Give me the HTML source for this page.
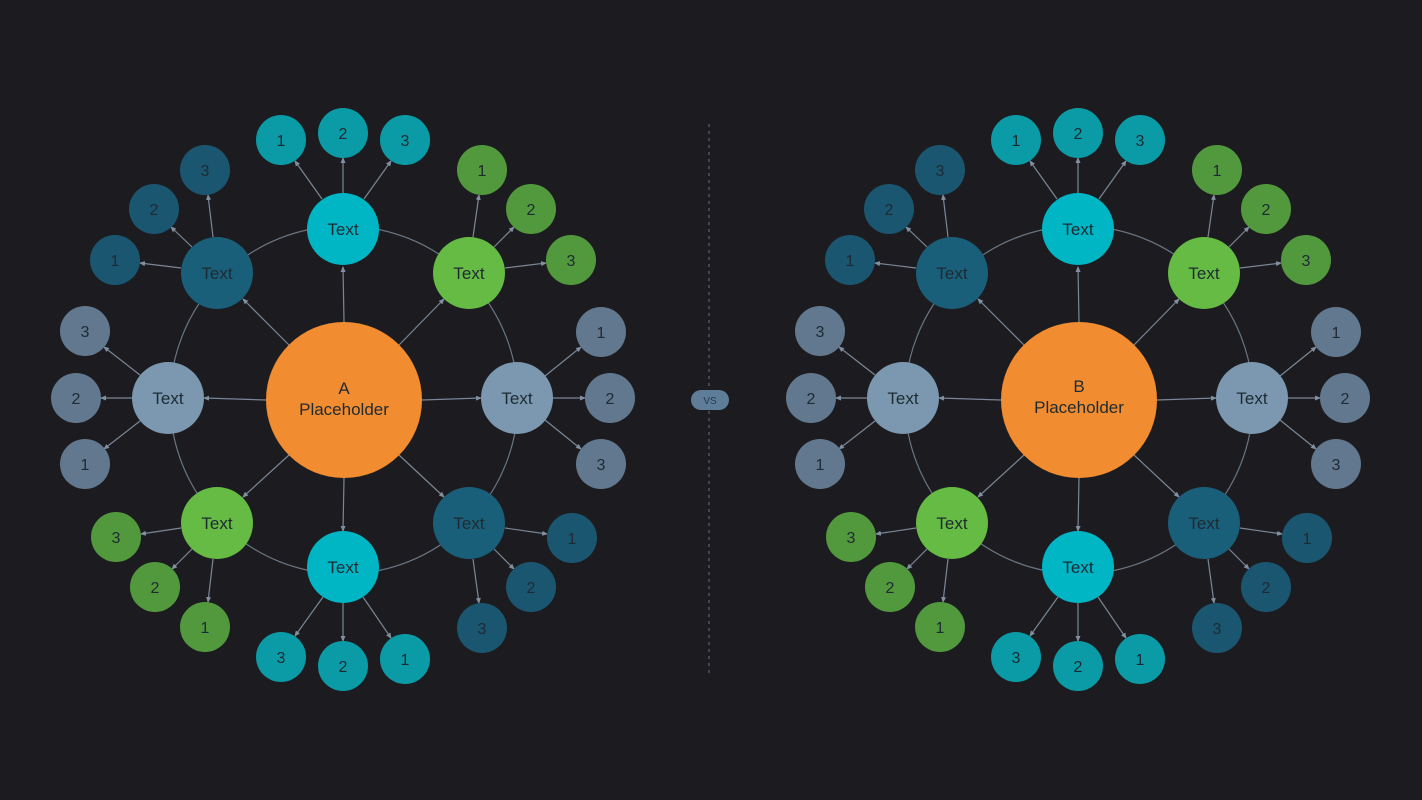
<!DOCTYPE html>
<html><head><meta charset="utf-8"><style>
html,body{margin:0;padding:0;background:#1c1c20;}
svg{display:block;font-family:"Liberation Sans",sans-serif;}
</style></head><body>
<svg width="1422" height="800" viewBox="0 0 1422 800" xmlns="http://www.w3.org/2000/svg">
<defs>
<marker id="ah" markerWidth="6" markerHeight="6" refX="5" refY="3" orient="auto" markerUnits="userSpaceOnUse">
<path d="M0,0.5 L6,3 L0,5.5 z" fill="#8090a0"/>
</marker>
<g id="dia">
<circle cx="344" cy="400" r="174" fill="none" stroke="#6a7684" stroke-width="1.2"/>
<g stroke="#7a8696" stroke-width="1.2" marker-end="url(#ah)">
<line x1="344" y1="322" x2="343" y2="267"/>
<line x1="344" y1="478" x2="343" y2="531"/>
<line x1="422" y1="400" x2="481" y2="398"/>
<line x1="266" y1="400" x2="204" y2="398"/>
<line x1="289" y1="345" x2="243" y2="299"/>
<line x1="399" y1="345" x2="444" y2="299"/>
<line x1="289" y1="455" x2="243" y2="497"/>
<line x1="399" y1="455" x2="444" y2="497"/>
<line x1="322" y1="199" x2="295" y2="161"/>
<line x1="343" y1="193" x2="343" y2="158"/>
<line x1="364" y1="199" x2="391" y2="161"/>
<line x1="323" y1="597" x2="295" y2="636"/>
<line x1="343" y1="603" x2="343" y2="641"/>
<line x1="363" y1="597" x2="391" y2="638"/>
<line x1="473" y1="237" x2="479" y2="195"/>
<line x1="494" y1="247" x2="514" y2="227"/>
<line x1="505" y1="268" x2="546" y2="263"/>
<line x1="213" y1="237" x2="208" y2="195"/>
<line x1="192" y1="247" x2="171" y2="227"/>
<line x1="181" y1="268" x2="140" y2="263"/>
<line x1="545" y1="376" x2="581" y2="347"/>
<line x1="553" y1="398" x2="585" y2="398"/>
<line x1="545" y1="420" x2="581" y2="449"/>
<line x1="140" y1="375" x2="104" y2="347"/>
<line x1="132" y1="398" x2="101" y2="398"/>
<line x1="140" y1="421" x2="104" y2="449"/>
<line x1="181" y1="528" x2="141" y2="534"/>
<line x1="192" y1="549" x2="172" y2="569"/>
<line x1="213" y1="559" x2="208" y2="602"/>
<line x1="505" y1="528" x2="547" y2="534"/>
<line x1="494" y1="549" x2="514" y2="569"/>
<line x1="473" y1="559" x2="479" y2="603"/>
</g>
<g fill="#0a9ba6"><circle cx="281" cy="140" r="25"/><circle cx="343" cy="133" r="25"/><circle cx="405" cy="140" r="25"/><circle cx="281" cy="657" r="25"/><circle cx="343" cy="666" r="25"/><circle cx="405" cy="659" r="25"/></g>
<g fill="#52993e"><circle cx="482" cy="170" r="25"/><circle cx="531" cy="209" r="25"/><circle cx="571" cy="260" r="25"/><circle cx="116" cy="537" r="25"/><circle cx="155" cy="587" r="25"/><circle cx="205" cy="627" r="25"/></g>
<g fill="#1b5670"><circle cx="205" cy="170" r="25"/><circle cx="154" cy="209" r="25"/><circle cx="115" cy="260" r="25"/><circle cx="572" cy="538" r="25"/><circle cx="531" cy="587" r="25"/><circle cx="482" cy="628" r="25"/></g>
<g fill="#62788e"><circle cx="601" cy="332" r="25"/><circle cx="610" cy="398" r="25"/><circle cx="601" cy="464" r="25"/><circle cx="85" cy="331" r="25"/><circle cx="76" cy="398" r="25"/><circle cx="85" cy="464" r="25"/></g>
<circle cx="343" cy="229" r="36" fill="#00b5c4"/>
<circle cx="343" cy="567" r="36" fill="#00b5c4"/>
<circle cx="469" cy="273" r="36" fill="#66bb44"/>
<circle cx="217" cy="523" r="36" fill="#66bb44"/>
<circle cx="217" cy="273" r="36" fill="#1a5f7a"/>
<circle cx="469" cy="523" r="36" fill="#1a5f7a"/>
<circle cx="517" cy="398" r="36" fill="#7b98b0"/>
<circle cx="168" cy="398" r="36" fill="#7b98b0"/>
<circle cx="344" cy="400" r="78" fill="#f28c30"/>
<g fill="#1e2a32" font-size="17" text-anchor="middle">
<text x="343" y="235">Text</text><text x="343" y="573">Text</text>
<text x="469" y="279">Text</text><text x="217" y="529">Text</text>
<text x="217" y="279">Text</text><text x="469" y="529">Text</text>
<text x="517" y="404">Text</text><text x="168" y="404">Text</text>
</g>
<g fill="#1e2a32" font-size="16" text-anchor="middle">
<text x="281" y="146">1</text><text x="343" y="139">2</text><text x="405" y="146">3</text>
<text x="281" y="663">3</text><text x="343" y="672">2</text><text x="405" y="665">1</text>
<text x="482" y="176">1</text><text x="531" y="215">2</text><text x="571" y="266">3</text>
<text x="116" y="543">3</text><text x="155" y="593">2</text><text x="205" y="633">1</text>
<text x="205" y="176">3</text><text x="154" y="215">2</text><text x="115" y="266">1</text>
<text x="572" y="544">1</text><text x="531" y="593">2</text><text x="482" y="634">3</text>
<text x="601" y="338">1</text><text x="610" y="404">2</text><text x="601" y="470">3</text>
<text x="85" y="337">3</text><text x="76" y="404">2</text><text x="85" y="470">1</text>
</g>
</g>
</defs>
<use href="#dia"/>
<use href="#dia" transform="translate(735,0)"/>
<g fill="#1e2a32" font-size="17" text-anchor="middle">
<text x="344" y="394">A</text><text x="344" y="415">Placeholder</text>
<text x="1079" y="392">B</text><text x="1079" y="413">Placeholder</text>
</g>
<line x1="709" y1="124" x2="709" y2="676" stroke="#5a6270" stroke-width="1.2" stroke-dasharray="3,4"/>
<rect x="691" y="390" width="38" height="20" rx="10" fill="#5e7d98"/>
<text x="710" y="404" font-size="10" fill="#2a3848" text-anchor="middle">VS</text>
</svg>
</body></html>
